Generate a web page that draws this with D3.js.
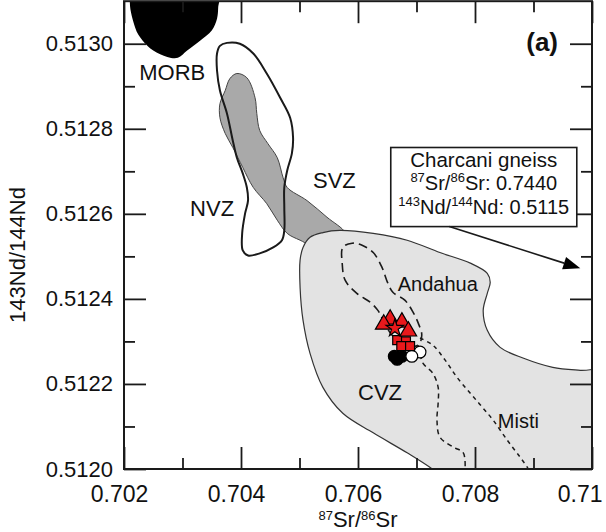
<!DOCTYPE html>
<html>
<head>
<meta charset="utf-8">
<script src="https://cdn.jsdelivr.net/npm/d3@7"></script>
<style>
  body { margin: 0; background: #fff; }
  text { font-family: "Liberation Sans", Arial, sans-serif; fill: #111; }
</style>
</head>
<body>
<div id="chart"></div>
<script>
// ---- data (87Sr/86Sr, 143Nd/144Nd) ----
const morbField = [[0.70215,0.51312],[0.70219,0.513038],[0.70232,0.513007],[0.70250,0.512984],[0.70274,0.512969],[0.70292,0.512967],[0.70308,0.512984],[0.70330,0.513007],[0.70350,0.513031],[0.70359,0.513059],[0.70361,0.513085],[0.70361,0.51312]];

const nvzField = [[0.70376,0.513002],[0.70398,0.513000],[0.70421,0.512977],[0.70444,0.51293],[0.70467,0.512873],[0.70484,0.512826],[0.70489,0.512779],[0.70487,0.512742],[0.70479,0.512702],[0.70474,0.512662],[0.70474,0.512615],[0.70474,0.512561],[0.70470,0.512538],[0.70455,0.512521],[0.70432,0.512507],[0.70412,0.512502],[0.70403,0.512514],[0.70402,0.512554],[0.70407,0.512601],[0.70412,0.512631],[0.70410,0.512662],[0.70403,0.512695],[0.70393,0.512732],[0.70386,0.512772],[0.70376,0.512836],[0.70364,0.51289],[0.70359,0.512937],[0.70359,0.512977],[0.70364,0.512995]];

const svzField = [[0.70393,0.51293],[0.70410,0.51292],[0.70424,0.512873],[0.70427,0.512836],[0.70432,0.512796],[0.70446,0.512765],[0.70462,0.512732],[0.70472,0.512685],[0.70479,0.512662],[0.70513,0.512631],[0.70547,0.512592],[0.70578,0.512556],[0.70578,0.512538],[0.70535,0.512519],[0.70501,0.512538],[0.70479,0.512554],[0.70462,0.512585],[0.70444,0.512624],[0.70421,0.512662],[0.70403,0.512709],[0.70386,0.512756],[0.70373,0.512789],[0.70364,0.512826],[0.70364,0.512859],[0.70373,0.51289],[0.70381,0.512918]];

const cvzField = [[0.70518,0.512545],[0.70540,0.512556],[0.70569,0.512561],[0.70626,0.512554],[0.70684,0.512538],[0.70740,0.512509],[0.70792,0.512484],[0.70821,0.51246],[0.70826,0.512439],[0.70821,0.512413],[0.70814,0.512373],[0.70821,0.512326],[0.70843,0.512286],[0.70882,0.512261],[0.70933,0.512239],[0.70980,0.512232],[0.71048,0.512228],[0.71048,0.51193],[0.70792,0.51193],[0.70727,0.512],[0.70684,0.512038],[0.70626,0.512085],[0.70574,0.512131],[0.70540,0.512192],[0.70518,0.512272],[0.70506,0.51235],[0.70501,0.512427],[0.70501,0.512491],[0.70506,0.512521]];

const andahuaField = [[0.70574,0.512521],[0.70573,0.512484],[0.70578,0.512444],[0.70598,0.512413],[0.70621,0.512392],[0.70634,0.512373],[0.70643,0.51235],[0.70658,0.512315],[0.70680,0.512291],[0.70703,0.512291],[0.70709,0.512315],[0.70703,0.512343],[0.70694,0.512369],[0.70680,0.512397],[0.70660,0.512415],[0.70651,0.512437],[0.70641,0.512474],[0.70626,0.512509],[0.70607,0.512526],[0.70590,0.512531]];

const mistiLeft = [[0.70703,0.512291],[0.70711,0.512249],[0.70728,0.512225],[0.70737,0.512192],[0.70737,0.512155],[0.70735,0.512115],[0.70740,0.512075],[0.70762,0.512052],[0.70780,0.512038],[0.70783,0.511998]];
const mistiRight = [[0.70706,0.512308],[0.70728,0.512291],[0.70749,0.512256],[0.70769,0.512216],[0.70792,0.512178],[0.70812,0.512146],[0.70831,0.512115],[0.70855,0.512068],[0.70877,0.512028],[0.70889,0.512005],[0.70892,0.511998]];

// samples
const triangles = [[0.70655,0.512352],[0.70675,0.512345],[0.70686,0.512324],[0.70644,0.51234]];
const stars = [[0.70663,0.512331]];
const squares = [[0.70667,0.512303],[0.70682,0.5123],[0.70674,0.512289],[0.70689,0.512289]];
const blackCircles = [[0.70667,0.512258],[0.70675,0.512265],[0.70662,0.512265]];
const whiteCircles = [[0.70706,0.512275],[0.70692,0.512265]];

// ticks
const xMajor = [0.702, 0.704, 0.706, 0.708, 0.710];
const xMinor = [0.703, 0.705, 0.707, 0.709];
const xTickLabels = ['0.702', '0.704', '0.706', '0.708', '0.71'];
const yMajor = [0.5120, 0.5122, 0.5124, 0.5126, 0.5128, 0.5130];
const yMinor = [0.5121, 0.5123, 0.5125, 0.5127, 0.5129];
const yTickLabels = ['0.5120', '0.5122', '0.5124', '0.5126', '0.5128', '0.5130'];

// labels [text, sr, nd, size]
const fieldLabels = [['MORB', 0.70226, 0.512915, 22], ['NVZ', 0.70313, 0.512596, 22], ['SVZ', 0.70523, 0.51266, 22],
                     ['Andahua', 0.70668, 0.512418, 20], ['CVZ', 0.70600, 0.512162, 22], ['Misti', 0.70839, 0.512096, 20]];
const gneissBox = [0.70656, 0.70974, 0.512756, 0.51257];
const gneissArrow = [[0.70756, 0.51257], [0.70980, 0.512472]];

// ---- chart ----
const width = 606, height = 532;
const x = d3.scaleLinear().domain([0.702, 0.710]).range([124, 592]);
const y = d3.scaleLinear().domain([0.5120, 0.5131]).range([469, 1.2]);
const ink = '#1a1a1a';

const svg = d3.select('#chart').append('svg')
    .attr('width', width)
    .attr('height', height);

svg.append('defs').append('clipPath').attr('id', 'plot')
  .append('rect')
    .attr('x', x(0.702)).attr('y', y(0.5131))
    .attr('width', x(0.710) - x(0.702)).attr('height', y(0.5120) - y(0.5131));

const closed = d3.line().x(d => x(d[0])).y(d => y(d[1])).curve(d3.curveCatmullRomClosed.alpha(0.5));
const open = d3.line().x(d => x(d[0])).y(d => y(d[1])).curve(d3.curveCatmullRom.alpha(0.5));

const fields = svg.append('g').attr('clip-path', 'url(#plot)');

fields.append('path').attr('d', closed(morbField)).attr('fill', '#000');
fields.append('path').attr('d', closed(svzField)).attr('fill', '#a9a9a9').attr('stroke', '#444').attr('stroke-width', 1);
fields.append('path').attr('d', closed(nvzField)).attr('fill', 'none').attr('stroke', ink).attr('stroke-width', 2);
fields.append('path').attr('d', closed(cvzField)).attr('fill', '#e3e3e3').attr('stroke', '#333').attr('stroke-width', 1.2);
fields.append('path').attr('d', closed(andahuaField)).attr('fill', 'none').attr('stroke', ink)
    .attr('stroke-width', 1.6).attr('stroke-dasharray', '9,5');
fields.append('path').attr('d', open(mistiLeft)).attr('fill', 'none').attr('stroke', ink)
    .attr('stroke-width', 1.5).attr('stroke-dasharray', '5,4');
fields.append('path').attr('d', open(mistiRight)).attr('fill', 'none').attr('stroke', ink)
    .attr('stroke-width', 1.5).attr('stroke-dasharray', '4,4');

// axes, ticks inward on all four sides
function styleAxis(g) {
  g.select('.domain').remove();
  g.selectAll('line').attr('stroke', ink).attr('stroke-width', 1.8);
  g.selectAll('text').attr('fill', '#111').attr('font-size', 22)
      .attr('font-family', '"Liberation Sans", Arial, sans-serif');
}
const axisB = svg.append('g').attr('transform', `translate(0,${y(0.5120)})`);
axisB.append('g').call(d3.axisBottom(x).tickValues(xMajor).tickSize(-22).tickPadding(17)
    .tickFormat((d, i) => xTickLabels[i])).call(styleAxis);
axisB.append('g').call(d3.axisBottom(x).tickValues(xMinor).tickSize(-11).tickFormat('')).call(styleAxis);
axisB.selectAll('text').attr('dx', -5).attr('font-size', 23);
axisB.selectAll('.tick').filter(d => d === 0.710).select('text').attr('text-anchor', 'end').attr('dx', 10);

const axisT = svg.append('g').attr('transform', `translate(0,${y(0.5131)})`);
axisT.append('g').call(d3.axisTop(x).tickValues(xMajor).tickSize(-22).tickFormat('')).call(styleAxis);
axisT.append('g').call(d3.axisTop(x).tickValues(xMinor).tickSize(-11).tickFormat('')).call(styleAxis);

const axisL = svg.append('g').attr('transform', `translate(${x(0.702)},0)`);
axisL.append('g').call(d3.axisLeft(y).tickValues(yMajor).tickSize(-22).tickPadding(11)
    .tickFormat((d, i) => yTickLabels[i])).call(styleAxis);
axisL.append('g').call(d3.axisLeft(y).tickValues(yMinor).tickSize(-11).tickFormat('')).call(styleAxis);

const axisR = svg.append('g').attr('transform', `translate(${x(0.710)},0)`);
axisR.append('g').call(d3.axisRight(y).tickValues(yMajor).tickSize(-22).tickFormat('')).call(styleAxis);
axisR.append('g').call(d3.axisRight(y).tickValues(yMinor).tickSize(-11).tickFormat('')).call(styleAxis);

// frame
svg.append('rect')
    .attr('x', x(0.702)).attr('y', y(0.5131))
    .attr('width', x(0.710) - x(0.702)).attr('height', y(0.5120) - y(0.5131))
    .attr('fill', 'none').attr('stroke', ink).attr('stroke-width', 2);

// field labels
svg.append('g').selectAll('text').data(fieldLabels).join('text')
    .attr('x', d => x(d[1])).attr('y', d => y(d[2]))
    .attr('font-size', d => d[3])
    .text(d => d[0]);

// sample symbols
const pts = svg.append('g');
const sym = (data, type, size, fill) => pts.selectAll(null).data(data).join('path')
    .attr('transform', d => `translate(${x(d[0])},${y(d[1])})`)
    .attr('d', d3.symbol().type(type).size(size))
    .attr('fill', fill).attr('stroke', '#000').attr('stroke-width', 1.2);
sym(blackCircles, d3.symbolCircle, 110, '#000');
sym(whiteCircles, d3.symbolCircle, 110, '#fff');
sym(squares, d3.symbolSquare, 80, '#e8191c');
sym(triangles, d3.symbolTriangle, 120, '#e8191c');
sym(stars, d3.symbolStar, 95, '#e8191c');

// Charcani gneiss box + arrow
const bx = x(gneissBox[0]), by = y(gneissBox[2]);
svg.append('rect')
    .attr('x', bx).attr('y', by)
    .attr('width', x(gneissBox[1]) - bx).attr('height', y(gneissBox[3]) - by)
    .attr('fill', '#fff').attr('stroke', ink).attr('stroke-width', 1.6);
const cx = (bx + x(gneissBox[1])) / 2;
const box = svg.append('g').attr('text-anchor', 'middle').attr('font-size', 20);
box.append('text').attr('x', cx).attr('y', by + 20).attr('font-size', 20.5).text('Charcani gneiss');
const l2 = box.append('text').attr('x', cx).attr('y', by + 43).attr('font-size', 20);
l2.append('tspan').attr('font-size', 13).attr('dy', -8).text('87');
l2.append('tspan').attr('dy', 8).text('Sr/');
l2.append('tspan').attr('font-size', 13).attr('dy', -8).text('86');
l2.append('tspan').attr('dy', 8).text('Sr: 0.7440');
const l3 = box.append('text').attr('x', cx).attr('y', by + 67).attr('font-size', 20);
l3.append('tspan').attr('font-size', 13).attr('dy', -8).text('143');
l3.append('tspan').attr('dy', 8).text('Nd/');
l3.append('tspan').attr('font-size', 13).attr('dy', -8).text('144');
l3.append('tspan').attr('dy', 8).text('Nd: 0.5115');

const ax0 = x(gneissArrow[0][0]), ay0 = y(gneissArrow[0][1]);
const ax1 = x(gneissArrow[1][0]), ay1 = y(gneissArrow[1][1]);
const ang = Math.atan2(ay1 - ay0, ax1 - ax0);
const hl = 17, hw = 6.5;
const bxh = ax1 - hl * Math.cos(ang), byh = ay1 - hl * Math.sin(ang);
svg.append('line')
    .attr('x1', ax0).attr('y1', ay0)
    .attr('x2', bxh).attr('y2', byh)
    .attr('stroke', ink).attr('stroke-width', 1.6);
svg.append('polygon')
    .attr('points', [[ax1, ay1],
      [bxh + hw * Math.sin(ang), byh - hw * Math.cos(ang)],
      [bxh - hw * Math.sin(ang), byh + hw * Math.cos(ang)]].map(p => p.join(',')).join(' '))
    .attr('fill', '#000');

// panel tag
svg.append('text').attr('x', 558).attr('y', 51).attr('text-anchor', 'end')
    .attr('font-size', 26).attr('font-weight', 'bold').text('(a)');

// axis titles
const xt = svg.append('text').attr('x', (x(0.702) + x(0.710)) / 2).attr('y', 526.5)
    .attr('text-anchor', 'middle').attr('font-size', 22);
xt.append('tspan').attr('font-size', 13).attr('dy', -6.5).text('87');
xt.append('tspan').attr('dy', 6.5).text('Sr/');
xt.append('tspan').attr('font-size', 13).attr('dy', -6.5).text('86');
xt.append('tspan').attr('dy', 6.5).text('Sr');

svg.append('text')
    .attr('transform', `translate(25,${255}) rotate(-90)`)
    .attr('text-anchor', 'middle').attr('font-size', 22)
    .text('143Nd/144Nd');
</script>
</body>
</html>
